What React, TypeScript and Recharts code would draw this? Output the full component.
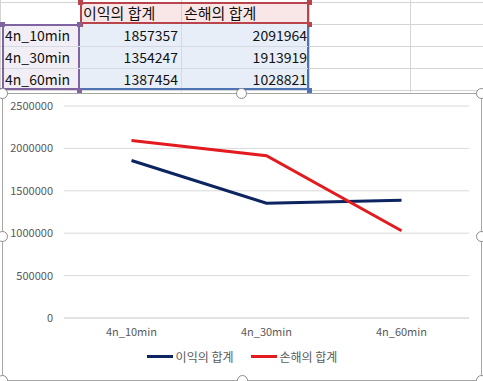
import { CartesianGrid, Legend, Line, LineChart, XAxis, YAxis } from 'recharts'

const categories = ['4n_10min', '4n_30min', '4n_60min']
const profit = [1857357, 1354247, 1387454]
const loss = [2091964, 1913919, 1028821]
const seriesNames = ['이익의 합계', '손해의 합계']
const yTicks = [0, 500000, 1000000, 1500000, 2000000, 2500000]

const data = categories.map((name, i) => ({ name, profit: profit[i], loss: loss[i] }))

const font = '"Noto Sans CJK KR", "Noto Sans", sans-serif'
const colX = [0, 80, 181, 309, 410, 520]
const rowY = [2, 24, 46, 68, 90]

function Handle({ x, y, color }: { x: number; y: number; color: string }) {
  return (
    <div
      style={{ position: 'absolute', left: x - 2, top: y - 2, width: 5, height: 5, background: color }}
    />
  )
}

function Knob({ x, y }: { x: number; y: number }) {
  return (
    <div
      style={{
        position: 'absolute',
        left: x - 5,
        top: y - 5,
        width: 9,
        height: 9,
        borderRadius: '50%',
        border: '1px solid #8c8c8c',
        background: '#fff',
      }}
    />
  )
}

function Sheet() {
  const cell = (left: number, top: number, w: number, h: number, extra: object, text?: string | number) => (
    <div
      style={{
        position: 'absolute',
        left,
        top,
        width: w,
        height: h,
        boxSizing: 'border-box',
        fontSize: 14,
        lineHeight: `${h}px`,
        color: '#111',
        overflow: 'hidden',
        whiteSpace: 'nowrap',
        ...extra,
      }}
    >
      {text}
    </div>
  )
  return (
    <>
      {/* grid lines */}
      {rowY.map((y) => (
        <div key={'h' + y} style={{ position: 'absolute', left: 0, top: y, width: 483, height: 1, background: '#d4d4d4' }} />
      ))}
      {colX.map((x) => (
        <div key={'v' + x} style={{ position: 'absolute', left: x, top: 0, width: 1, height: 92, background: '#d4d4d4' }} />
      ))}
      {/* header */}
      <div style={{ position: 'absolute', left: 80, top: 2, width: 229, height: 22, background: '#f9e7e7', border: '2px solid #b8444c', boxSizing: 'border-box' }} />
      <div style={{ position: 'absolute', left: 181, top: 4, width: 1, height: 18, background: '#e0c8c8' }} />
      {seriesNames.map((s, i) => cell(colX[i + 1] + 3, 2, colX[i + 2] - colX[i + 1] - 3, 22, { fontSize: 15 }, s))}
      {/* categories */}
      <div style={{ position: 'absolute', left: 2, top: 24, width: 78, height: 66, background: '#f2eef6', border: '2px solid #8064a2', boxSizing: 'border-box' }} />
      {/* values */}
      <div style={{ position: 'absolute', left: 80, top: 24, width: 229, height: 66, background: '#e8eef8', border: '2px solid #4f74b4', borderTop: 'none', borderLeft: 'none', boxSizing: 'border-box' }} />
      {categories.map((c, i) => (
        <div key={c}>
          {i > 0 && <div style={{ position: 'absolute', left: 4, top: rowY[i + 1], width: 304, height: 1, background: '#d4d9e2' }} />}
          {cell(5, rowY[i + 1], 74, 22, {}, c)}
          {cell(80, rowY[i + 1], 98, 22, { textAlign: 'right' }, profit[i])}
          {cell(181, rowY[i + 1], 126, 22, { textAlign: 'right' }, loss[i])}
        </div>
      ))}
      <div style={{ position: 'absolute', left: 181, top: 24, width: 1, height: 64, background: '#d4d9e2' }} />
      <Handle x={80} y={2} color="#b8444c" />
      <Handle x={309} y={2} color="#b8444c" />
      <Handle x={80} y={24} color="#b8444c" />
      <Handle x={309} y={24} color="#b8444c" />
      <Handle x={2} y={24} color="#8064a2" />
      <Handle x={79} y={24} color="#8064a2" />
      <Handle x={2} y={90} color="#8064a2" />
      <Handle x={79} y={90} color="#8064a2" />
      <Handle x={309} y={90} color="#4f74b4" />
    </>
  )
}

const colors = ['#0c2460', '#e31b1f']

function LegendContent() {
  return (
    <div style={{ height: 36, display: 'flex', justifyContent: 'center', alignItems: 'flex-start', paddingLeft: 12, fontFamily: font }}>
      {seriesNames.map((s, i) => (
        <div key={s} style={{ display: 'flex', alignItems: 'center', marginRight: i === 0 ? 17 : 0, marginTop: 4 }}>
          <div style={{ width: 26, height: 3, background: colors[i], marginRight: 3 }} />
          <span style={{ fontSize: 12, color: '#595959' }}>{s}</span>
        </div>
      ))}
    </div>
  )
}

export default function App() {
  return (
    <div style={{ position: 'absolute', left: 0, top: 0, width: 483, height: 381, background: '#fff', fontFamily: font, overflow: 'hidden' }}>
      <Sheet />
      <div
        style={{
          position: 'absolute',
          left: 2,
          top: 93,
          width: 480,
          height: 288,
          border: '1px solid #a6a6a6',
          boxSizing: 'border-box',
          background: '#fff',
        }}
      >
        <LineChart width={478} height={286} data={data} margin={{ top: 12, right: 12, left: 0, bottom: 0 }}>
          <CartesianGrid vertical={false} stroke="#d9d9d9" />
          <XAxis
            dataKey="name"
            scale="band"
            height={26}
            tickLine={false}
            axisLine={{ stroke: '#d9d9d9' }}
            tick={{ fontSize: 11, fill: '#595959', fontFamily: font }}
            tickSize={4}
            tickMargin={6}
          />
          <YAxis
            width={61}
            domain={[0, 2500000]}
            ticks={yTicks}
            axisLine={false}
            tickLine={false}
            tickSize={8}
            tickMargin={3}
            tick={{ fontSize: 11, fill: '#595959', fontFamily: font }}
          />
          <Legend verticalAlign="bottom" content={() => <LegendContent />} />
          <Line dataKey="profit" name={seriesNames[0]} stroke={colors[0]} strokeWidth={3} dot={false} isAnimationActive={false} />
          <Line dataKey="loss" name={seriesNames[1]} stroke={colors[1]} strokeWidth={3} dot={false} isAnimationActive={false} />
        </LineChart>
      </div>
      <Knob x={2} y={93} />
      <Knob x={241} y={93} />
      <Knob x={481} y={93} />
      <Knob x={2} y={236} />
      <Knob x={481} y={236} />
      <Knob x={2} y={380} />
      <Knob x={242} y={380} />
      <Knob x={481} y={380} />
    </div>
  )
}
